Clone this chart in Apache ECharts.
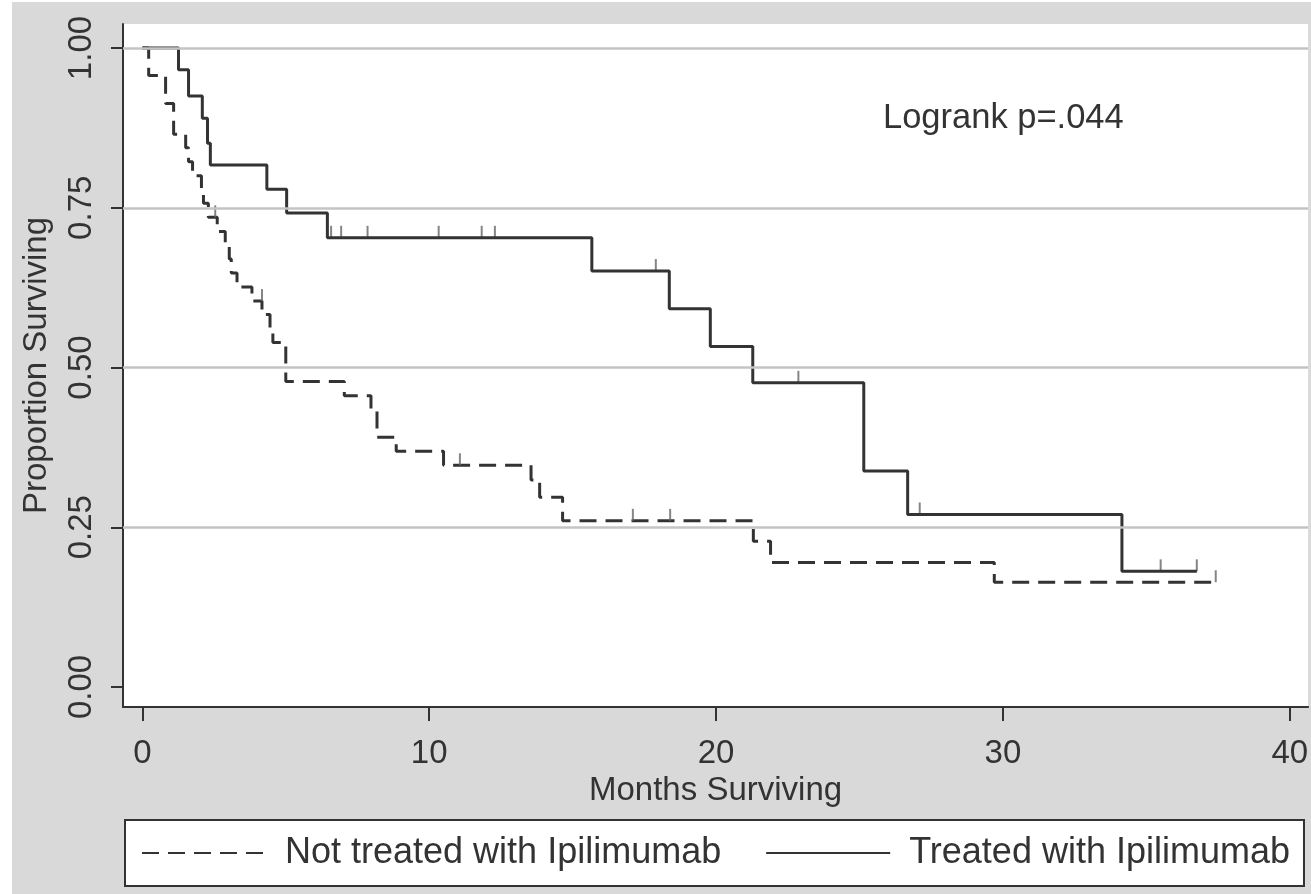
<!DOCTYPE html>
<html>
<head>
<meta charset="utf-8">
<script src="https://cdn.jsdelivr.net/npm/echarts@6/dist/echarts.min.js"></script>
<style>
  html, body { margin: 0; padding: 0; background: #fff; }
  #main { position: absolute; left: 12px; top: 2px; width: 1299px; height: 892px; }
</style>
</head>
<body>
<div id="main"></div>
<script>
// treated with Ipilimumab (solid)
var treatedTime = [0, 1.26, 1.61, 2.09, 2.27, 2.37, 4.34, 5.03, 6.45, 15.67, 18.37, 19.8, 21.28, 25.15, 26.68, 34.15, 36.76];
var treatedSurv = [1.00, 0.966, 0.925, 0.890, 0.851, 0.817, 0.779, 0.742, 0.703, 0.651, 0.592, 0.533, 0.476, 0.338, 0.270, 0.181, 0.181];
var treatedCensTime = [6.58, 6.93, 7.85, 10.33, 11.83, 12.29, 17.9, 22.87, 27.1, 35.5, 36.76];
var treatedCensSurv = [0.703, 0.703, 0.703, 0.703, 0.703, 0.703, 0.651, 0.476, 0.270, 0.181, 0.181];

// not treated (dashed)
var untreatedTime = [0, 0.22, 0.81, 1.09, 1.51, 1.61, 1.75, 2.06, 2.13, 2.30, 2.61, 2.89, 3.03, 3.10, 3.30, 3.82, 4.17, 4.45, 4.55, 5.00,
    7.04, 7.97, 8.18, 8.85, 10.5, 13.55, 13.85, 14.65, 21.3, 21.9, 29.7, 37.42];
var untreatedSurv = [1.00, 0.957, 0.913, 0.865, 0.844, 0.822, 0.800, 0.778, 0.757, 0.735, 0.713, 0.691, 0.670, 0.648, 0.626, 0.604, 0.583, 0.561, 0.539, 0.478,
    0.456, 0.434, 0.391, 0.369, 0.347, 0.324, 0.297, 0.260, 0.228, 0.195, 0.164, 0.164];
var untreatedCensTime = [2.54, 4.17, 11.07, 17.1, 18.4, 37.42];
var untreatedCensSurv = [0.735, 0.604, 0.347, 0.260, 0.260, 0.164];

var xTicks = [0, 10, 20, 30, 40];
var yTicks = [0, 0.25, 0.5, 0.75, 1];
var gridValues = [0.25, 0.5, 0.75, 1];

var seriesNames = ['Not treated with Ipilimumab', 'Treated with Ipilimumab'];
var note = 'Logrank p=.044';

function pairs(xs, ys) {
    var out = [];
    for (var i = 0; i < xs.length; i++) out.push([xs[i], ys[i]]);
    return out;
}

var FONT = '"Liberation Sans", Arial, Helvetica, sans-serif';
var INK = '#333';

var chart = echarts.init(document.getElementById('main'));

var option = {
    backgroundColor: '#d9d9d9',
    animation: false,
    title: {
        text: note,
        left: 871, top: 99, padding: 0,
        textStyle: { fontFamily: FONT, fontSize: 34.5, fontWeight: 'normal', color: INK }
    },
    grid: {
        left: 105, top: 22, right: -4, bottom: 187,
        show: true, backgroundColor: '#fff', borderWidth: 0
    },
    legend: {
        data: seriesNames,
        left: 113, top: 818,
        orient: 'horizontal',
        backgroundColor: '#fff',
        borderColor: '#333', borderWidth: 2,
        padding: [15, 14, 15, 16],
        itemWidth: 124, itemHeight: 14, itemGap: 44,
        itemStyle: { opacity: 0, borderWidth: 0 },
        textStyle: { fontFamily: FONT, fontSize: 36, color: INK, padding: [0, 0, 0, 14] }
    },
    xAxis: {
        type: 'value',
        min: -0.675, max: 40.64,
        name: 'Months Surviving',
        nameLocation: 'middle', nameGap: 63,
        nameTextStyle: { fontFamily: FONT, fontSize: 33, color: INK },
        axisLine: { show: true, onZero: false, lineStyle: { color: INK, width: 2 } },
        axisTick: { show: true, length: 14, customValues: xTicks, lineStyle: { color: INK, width: 2 } },
        axisLabel: { customValues: xTicks, margin: 30, fontFamily: FONT, fontSize: 33, color: INK },
        splitLine: { show: false }
    },
    yAxis: {
        type: 'value',
        min: -0.0313, max: 1.0376,
        name: 'Proportion Surviving',
        nameLocation: 'middle', nameGap: 70, nameRotate: 90,
        nameTextStyle: { fontFamily: FONT, fontSize: 33, color: INK },
        axisLine: { show: true, onZero: false, lineStyle: { color: INK, width: 2 } },
        axisTick: { show: true, length: 12, customValues: yTicks, lineStyle: { color: INK, width: 2 } },
        axisLabel: {
            customValues: yTicks, rotate: 90, margin: 25,
            fontFamily: FONT, fontSize: 33, color: INK,
            formatter: function (v) { return v.toFixed(2); }
        },
        splitLine: { show: false }
    },
    series: [
        {
            // gridlines only
            type: 'line', data: [], z: 1, silent: true,
            markLine: {
                silent: true, symbol: 'none', label: { show: false },
                lineStyle: { color: '#c4c4c4', width: 2.5, type: 'solid' },
                data: gridValues.map(function (v) { return { yAxis: v }; })
            }
        },
        {
            name: seriesNames[0],
            type: 'line', step: 'end', symbol: 'none', z: 3,
            data: pairs(untreatedTime, untreatedSurv),
            lineStyle: { color: INK, width: 3, type: [17, 9] },
            itemStyle: { color: INK }
        },
        {
            name: seriesNames[1],
            type: 'line', step: 'end', symbol: 'none', z: 4,
            data: pairs(treatedTime, treatedSurv),
            lineStyle: { color: INK, width: 3, type: 'solid' },
            itemStyle: { color: INK }
        },
        {
            name: 'untreated censored',
            type: 'scatter', z: 3, silent: true,
            symbol: 'rect', symbolSize: [2, 12], symbolOffset: [0, -6],
            itemStyle: { color: '#666' },
            data: pairs(untreatedCensTime, untreatedCensSurv)
        },
        {
            name: 'treated censored',
            type: 'scatter', z: 3, silent: true,
            symbol: 'rect', symbolSize: [2, 12], symbolOffset: [0, -6],
            itemStyle: { color: '#666' },
            data: pairs(treatedCensTime, treatedCensSurv)
        }
    ]
};

chart.setOption(option);
</script>
</body>
</html>
